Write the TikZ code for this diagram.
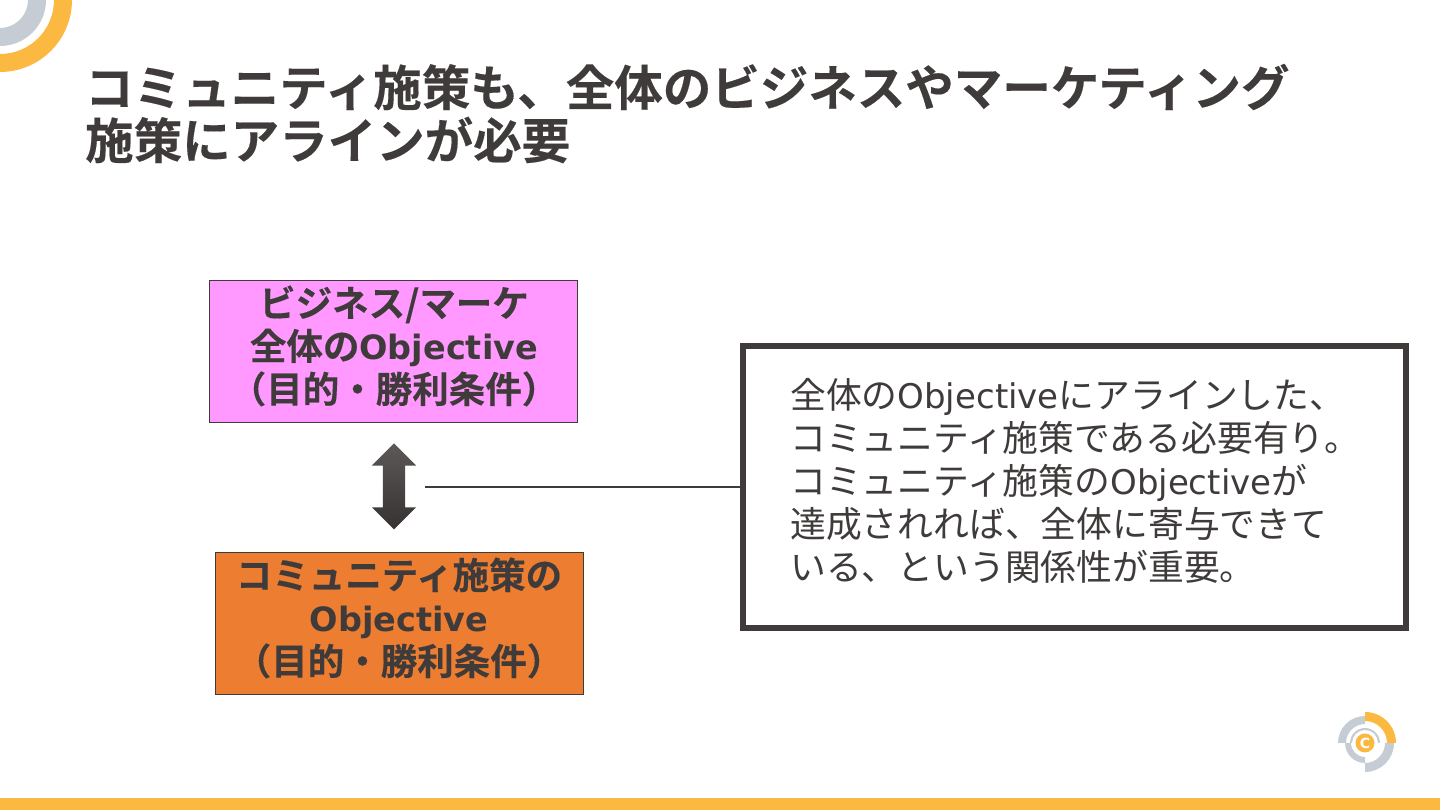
\documentclass[tikz,border=0pt]{standalone}
\usepackage{fontspec}
\setmainfont{DejaVu Sans}
\newfontfamily\jpbold[FakeBold=0.3]{Noto Sans CJK JP Bold}
\newfontfamily\jp{Noto Sans CJK JP}
\newfontfamily\latinbold{DejaVu Sans Bold}
\usetikzlibrary{shapes.arrows}
\definecolor{inkgrey}{HTML}{403B3B}
\definecolor{logoorange}{HTML}{FCB941}
\definecolor{logogrey}{HTML}{C5CCD3}
\definecolor{pinkbox}{HTML}{FF99FF}
\definecolor{orangebox}{HTML}{ED7D31}
\newcommand{\obj}{{\latinbold\fontsize{33.5}{43}\selectfont Objective}}
\newcommand{\ringpart}[5]{\fill[#1] (#2:#4) arc[start angle=#2, end angle=#3, radius=#4] -- (#3:#5) arc[start angle=#3, end angle=#2, radius=#5] -- cycle;}
\tikzset{
    titletext/.style={inkgrey, anchor=west, inner sep=0pt, font=\fontsize{48.5}{54}\selectfont},
    objbox/.style={draw=inkgrey, line width=0.7pt, minimum width=368, minimum height=142, inner sep=0pt},
    objtext/.style={align=center, inner sep=0pt, text=inkgrey, font=\fontsize{36.5}{43}\selectfont},
}
\begin{document}
\begin{tikzpicture}[x=1pt, y=1pt]
    \useasboundingbox (0,0) rectangle (1440,810);
    % Corner rings
    \fill[logogrey] (46,810) arc (0:-90:46) -- (0,782) arc (-90:0:28) -- cycle;
    \fill[logoorange] (72,810) arc (0:-90:72) -- (0,756) arc (-90:0:54) -- cycle;
    % Footer bar
    \fill[logoorange] (0,0) rectangle (1440,12);
    % Small logo
    \begin{scope}[shift={(1365,67)}]
        \ringpart{logogrey}{90}{180}{27}{19}
        \ringpart{logogrey}{180}{270}{20}{14}
        \ringpart{logogrey}{270}{360}{29}{20}
        \ringpart{logogrey}{0}{180}{15}{13}
        \ringpart{logoorange}{0}{90}{31}{22}
    \end{scope}
    \node[circle, fill=logoorange, inner sep=0pt, minimum size=19, text=white, font=\latinbold\fontsize{14}{14}\selectfont] (logoc) at (1365,67) {C};
    % Title
    \node[titletext] (titleone) at (85,723) {\jpbold コミュニティ施策も、全体のビジネスやマーケティング};
    \node[titletext] (titletwo) at (85,670) {\jpbold 施策にアラインが必要};
    % Objective boxes
    \node[objbox, fill=pinkbox] (bizbox) at (393.5,459) {};
    \node[objtext] (biztext) at (394,464) {\jpbold ビジネス/マーケ\\\jpbold 全体の\obj\\\jpbold （目的・勝利条件）};
    \node[objbox, fill=orangebox] (commbox) at (399,187) {};
    \node[objtext] (commtext) at (399,192) {\jpbold コミュニティ施策の\\\obj\\\jpbold （目的・勝利条件）};
    % Double arrow
    \node[double arrow, shape border rotate=90, minimum height=86, inner xsep=11, inner ysep=0, double arrow head extend=11, double arrow head indent=0pt, top color=inkgrey!85, bottom color=inkgrey!85!black] (linkarrow) at (394,323.5) {};
    % Note box
    \node[draw=inkgrey, line width=6, fill=white, minimum width=663, minimum height=282, inner sep=0pt] (notebox) at (1074,323) {};
    \node[anchor=west, align=left, inner sep=0pt, text=inkgrey, font=\fontsize{35.8}{43}\selectfont] (notetext) at (790,329) {\jp 全体の{\rmfamily\fontsize{34}{43}\selectfont Objective}にアラインした、\\\jp コミュニティ施策である必要有り。\\\jp コミュニティ施策の{\rmfamily\fontsize{34}{43}\selectfont Objective}が\\\jp 達成されれば、全体に寄与できて\\\jp いる、という関係性が重要。};
    \coordinate (linestart) at (425,323);
    \draw[inkgrey, line width=2] (linestart) -- (notebox.west);
\end{tikzpicture}
\end{document}
